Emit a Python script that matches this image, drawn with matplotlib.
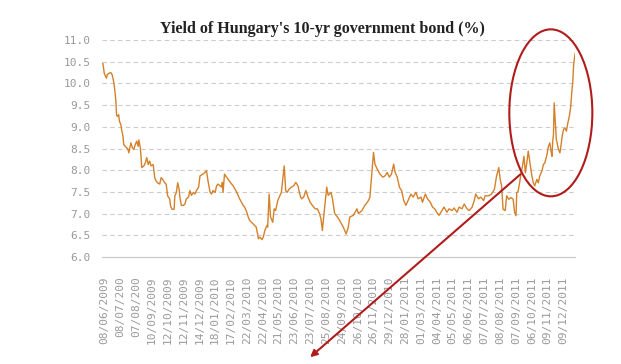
import matplotlib
matplotlib.use("Agg")
import matplotlib.pyplot as plt
from matplotlib.patches import Ellipse, FancyArrowPatch

# trading-day index (approx.) and yield in %
day = [0, 2, 5, 6, 8, 11, 13, 15, 16, 18, 19, 20, 22, 23, 25, 26, 28, 29, 31, 33,
       35, 36, 38, 39, 41, 43, 45, 47, 49, 50, 52, 53, 54, 57, 59, 61, 63, 65, 67, 70,
       72, 74, 76, 79, 81, 83, 86, 88, 90, 93, 94, 96, 99, 100, 102, 104, 106, 107, 109, 112,
       114, 116, 119, 121, 123, 126, 128, 130, 133, 135, 139, 142, 144, 146, 149, 151, 153, 156, 158, 160,
       163, 165, 166, 167, 169, 172, 177, 181, 186, 190, 195, 197, 200, 202, 204, 209, 213, 215, 216, 218,
       221, 223, 225, 228, 229, 231, 233, 236, 238, 240, 243, 245, 248, 252, 254, 256, 259, 262, 265, 268,
       271, 274, 276, 279, 282, 285, 288, 291, 295, 298, 301, 303, 305, 307, 311, 313, 317, 319, 322, 326,
       329, 334, 338, 341, 343, 348, 353, 355, 360, 364, 369, 371, 373, 376, 378, 381, 385, 389, 392, 395,
       398, 401, 404, 406, 409, 412, 415, 418, 421, 424, 428, 431, 435, 438, 442, 444, 448, 451, 455, 458,
       461, 465, 467, 471, 474, 478, 481, 485, 488, 492, 495, 499, 502, 506, 509, 513, 516, 518, 522, 525,
       529, 531, 536, 540, 544, 547, 550, 552, 554, 556, 559, 561, 564, 567, 570, 572, 574, 575, 577, 579,
       581, 583, 585, 587, 589, 591, 594, 596, 598, 600, 603, 605, 607, 610, 612, 614, 617, 619, 621, 623,
       624, 625, 626, 627, 629, 630, 631, 633, 635, 637, 638, 640, 642, 644, 646, 648, 650, 651, 653, 654,
       656]
yld = [10.46, 10.23, 10.12, 10.20, 10.23, 10.25, 10.20, 10.04, 9.93, 9.62, 9.28, 9.24, 9.28, 9.13, 9.05, 8.94, 8.78, 8.59, 8.55, 8.52,
       8.48, 8.40, 8.55, 8.63, 8.52, 8.48, 8.59, 8.67, 8.55, 8.70, 8.52, 8.32, 8.06, 8.10, 8.17, 8.29, 8.13, 8.21, 8.10, 8.13,
       7.83, 7.75, 7.71, 7.68, 7.83, 7.79, 7.71, 7.68, 7.41, 7.33, 7.18, 7.10, 7.10, 7.41, 7.48, 7.71, 7.56, 7.38, 7.19, 7.19,
       7.22, 7.34, 7.38, 7.53, 7.42, 7.49, 7.45, 7.53, 7.61, 7.87, 7.91, 7.95, 7.99, 7.76, 7.49, 7.45, 7.53, 7.49, 7.64, 7.68,
       7.64, 7.61, 7.72, 7.49, 7.91, 7.84, 7.72, 7.64, 7.49, 7.34, 7.19, 7.15, 7.03, 6.92, 6.84, 6.76, 6.69, 6.53, 6.42, 6.46,
       6.40, 6.46, 6.61, 6.73, 6.69, 7.45, 6.92, 6.80, 7.11, 7.07, 7.30, 7.38, 7.49, 8.10, 7.53, 7.49, 7.57, 7.61, 7.64, 7.72,
       7.64, 7.42, 7.34, 7.38, 7.53, 7.38, 7.26, 7.19, 7.11, 7.11, 7.00, 6.88, 6.61, 6.96, 7.61, 7.42, 7.49, 7.34, 7.00, 6.92,
       6.84, 6.69, 6.53, 6.69, 6.92, 6.96, 7.11, 7.00, 7.07, 7.19, 7.30, 7.38, 7.80, 8.41, 8.14, 8.03, 7.91, 7.84, 7.87, 7.95,
       7.84, 7.91, 8.14, 7.95, 7.84, 7.61, 7.53, 7.30, 7.19, 7.30, 7.45, 7.38, 7.49, 7.34, 7.38, 7.26, 7.45, 7.34, 7.26, 7.15,
       7.11, 7.00, 6.96, 7.07, 7.15, 7.03, 7.11, 7.07, 7.13, 7.03, 7.15, 7.11, 7.22, 7.11, 7.07, 7.15, 7.30, 7.45, 7.34, 7.38,
       7.30, 7.41, 7.41, 7.45, 7.56, 7.87, 8.06, 7.79, 7.64, 7.10, 7.07, 7.41, 7.33, 7.37, 7.33, 7.03, 6.95, 7.48, 7.52, 7.71,
       7.94, 8.10, 8.32, 7.94, 8.17, 8.44, 8.10, 7.87, 7.71, 7.64, 7.79, 7.71, 7.87, 7.98, 8.13, 8.17, 8.36, 8.55, 8.63, 8.40,
       8.32, 8.67, 8.82, 9.55, 9.01, 8.71, 8.63, 8.48, 8.40, 8.63, 8.78, 8.94, 8.97, 8.90, 9.09, 9.24, 9.47, 9.70, 10.08, 10.42,
       10.69]

tick_labels = ['08/06/2009', '08/07/200', '07/08/200', '10/09/2009', '12/10/2009',
               '12/11/2009', '14/12/2009', '18/01/2010', '17/02/2010', '22/03/2010',
               '22/04/2010', '21/05/2010', '23/06/2010', '23/07/2010', '25/08/2010',
               '24/09/2010', '26/10/2010', '26/11/2010', '29/12/2010', '28/01/2011',
               '01/03/2011', '04/04/2011', '05/05/2011', '06/06/2011', '07/07/2011',
               '08/08/2011', '07/09/2011', '06/10/2011', '09/11/2011', '09/12/2011']
tick_pos = [2 + 22 * i for i in range(len(tick_labels))]
y_ticks = [6.0, 6.5, 7.0, 7.5, 8.0, 8.5, 9.0, 9.5, 10.0, 10.5, 11.0]

fig = plt.figure(figsize=(6.21, 3.64), dpi=100)
ax = fig.add_axes([0.164, 0.294, 0.762, 0.596])

ax.plot(day, yld, color='#d4812a', lw=1.0)

ax.set_xlim(-1.4, 656)
ax.set_ylim(6.0, 11.0)
ax.set_yticks(y_ticks)
ax.set_yticklabels(['%.1f' % v for v in y_ticks])
ax.set_xticks(tick_pos)
ax.set_xticklabels(tick_labels, rotation=90)

for lab in ax.get_xticklabels() + ax.get_yticklabels():
    lab.set_family('DejaVu Sans Mono')
    lab.set_fontsize(8)
    lab.set_color('#999999')
ax.tick_params(axis='x', length=0, pad=14)
ax.tick_params(axis='y', length=0, pad=8)

ax.yaxis.grid(True, linestyle=(0, (4, 3)), color='#cccccc', lw=0.8)
ax.set_axisbelow(True)
for s in ['left', 'right', 'top']:
    ax.spines[s].set_visible(False)
ax.spines['bottom'].set_color('#c8c8c8')

fig.text(0.520, 0.920, "Yield of Hungary's 10-yr government bond (%)",
         ha='center', va='center', family='Liberation Serif',
         fontweight='bold', fontsize=11.5, color='#222222')

# red highlight ellipse and arrow, in figure coordinates
red = '#b01c1c'
ell = Ellipse((0.887, 0.690), 0.1337, 0.4588, transform=fig.transFigure,
              fill=False, edgecolor=red, lw=1.5)
fig.patches.append(ell)
arr = FancyArrowPatch((0.8414, 0.5261), (0.496, 0.0137), transform=fig.transFigure,
                      arrowstyle='-|>', mutation_scale=10, color=red, lw=1.5)
fig.patches.append(arr)

fig.savefig('out.png', dpi=100)
